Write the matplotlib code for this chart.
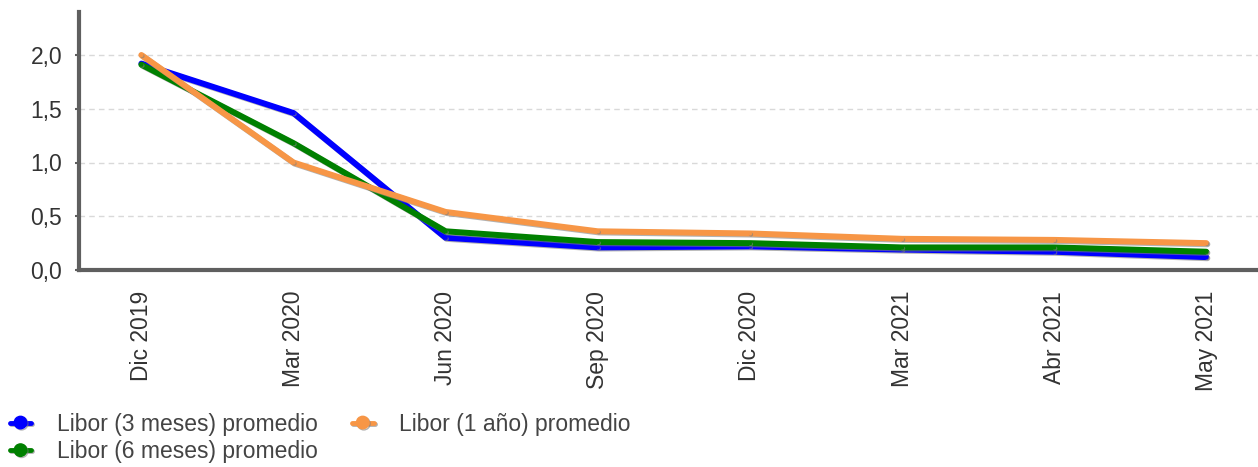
import matplotlib
matplotlib.use("Agg")
import matplotlib.pyplot as plt
import matplotlib.patheffects as pe
from matplotlib.ticker import FuncFormatter
import numpy as np

plt.rcParams["font.family"] = ["Liberation Sans", "DejaVu Sans"]

fechas = ["Dic 2019", "Mar 2020", "Jun 2020", "Sep 2020",
          "Dic 2020", "Mar 2021", "Abr 2021", "May 2021"]
libor_3m = [1.92, 1.46, 0.30, 0.21, 0.22, 0.19, 0.17, 0.12]
libor_6m = [1.91, 1.18, 0.36, 0.26, 0.25, 0.21, 0.21, 0.17]
libor_1a = [2.00, 1.00, 0.54, 0.36, 0.34, 0.29, 0.28, 0.25]

series = [
    ("Libor (3 meses) promedio", libor_3m, "#0000ff"),
    ("Libor (6 meses) promedio", libor_6m, "#008000"),
    ("Libor (1 año) promedio", libor_1a, "#f79646"),
]

W, H = 1258, 467
fig = plt.figure(figsize=(W / 100, H / 100), dpi=100)
ax = fig.add_axes([79 / W, 1 - 270 / H, 1 - 79 / W, 258 / H])

x = np.arange(len(fechas))
shadow = [pe.SimpleLineShadow(offset=(0.8, -0.8), shadow_color="gray", alpha=0.6), pe.Normal()]
for name, vals, col in series:
    ax.plot(x, vals, color=col, lw=4.3, label=name, solid_capstyle="round",
            solid_joinstyle="round", marker="o", markersize=2, path_effects=shadow)

ax.set_xlim(-0.41, 7.34)
ax.set_ylim(0, 2.4)
ax.set_yticks([0, 0.5, 1.0, 1.5, 2.0])
ax.yaxis.set_major_formatter(FuncFormatter(lambda v, p: f"{v:.1f}".replace(".", ",")))
ax.set_xticks(x)
ax.set_xticklabels(fechas, rotation=90)
ax.tick_params(axis="x", length=0, pad=15, labelsize=16.5, labelcolor="#333333")
ax.tick_params(axis="y", length=3, width=1.5, color="#5f5f5f", pad=9,
               labelsize=16.5, labelcolor="#333333")

for s in ["top", "right"]:
    ax.spines[s].set_visible(False)
for s in ["left", "bottom"]:
    ax.spines[s].set_color("#5f5f5f")
    ax.spines[s].set_linewidth(3)

for v in [0.5, 1.0, 1.5, 2.0]:
    ax.axhline(v, color="#d9d9d9", lw=1, ls=(0, (4, 3)), zorder=0)

handles, labels = ax.get_legend_handles_labels()
leg = fig.legend(handles, labels, loc="upper left",
                 bbox_to_anchor=(0.004, 1 - 408 / H), ncol=2, frameon=False,
                 prop={"size": 16.5}, handlelength=0.95, handletextpad=1.1,
                 columnspacing=1.5, labelspacing=0.2, borderaxespad=0.0,
                 borderpad=0.2)
for t in leg.get_texts():
    t.set_color("#444444")
for h in leg.legend_handles:
    h.set_markersize(9)
    h.set_linewidth(3.5)

fig.savefig("out.png", dpi=100)
